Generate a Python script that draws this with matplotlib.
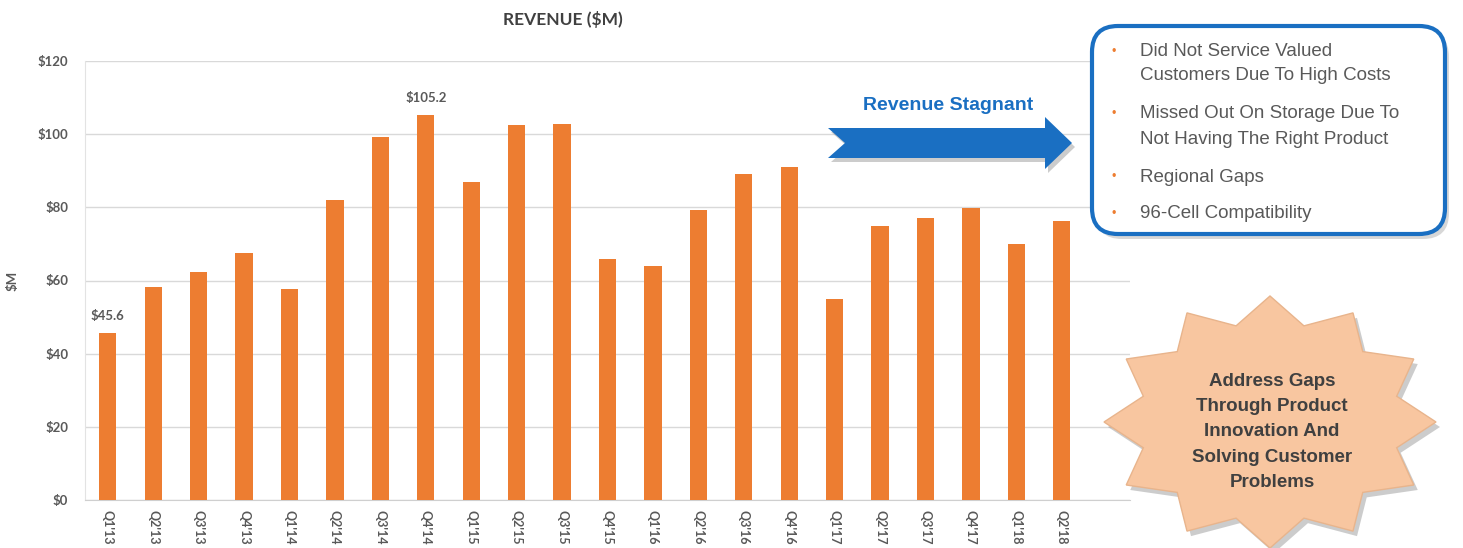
import numpy as np
import matplotlib
matplotlib.use("Agg")
import matplotlib.pyplot as plt
from matplotlib.patches import Polygon, FancyBboxPatch

# data
quarters = ["Q1'13", "Q2'13", "Q3'13", "Q4'13", "Q1'14", "Q2'14", "Q3'14", "Q4'14",
            "Q1'15", "Q2'15", "Q3'15", "Q4'15", "Q1'16", "Q2'16", "Q3'16", "Q4'16",
            "Q1'17", "Q2'17", "Q3'17", "Q4'17", "Q1'18", "Q2'18"]
revenue = [45.6, 58.1, 62.2, 67.4, 57.6, 82.1, 99.2, 105.2,
           86.8, 102.5, 102.9, 66.0, 64.1, 79.4, 89.0, 90.9,
           55.0, 74.8, 77.0, 79.8, 70.1, 76.2]
labeled = {0: "$45.6", 7: "$105.2"}
yticks = [0, 20, 40, 60, 80, 100, 120]
bullets = [["Did Not Service Valued", "Customers Due To High Costs"],
           ["Missed Out On Storage Due To", "Not Having The Right Product"],
           ["Regional Gaps"],
           ["96-Cell Compatibility"]]
star_lines = "Address Gaps\nThrough Product\nInnovation And\nSolving Customer\nProblems"

W, H = 1463, 548
orange = "#ED7D31"
blue = "#1A6FC2"
grey_txt = "#595959"

fig = plt.figure(figsize=(W / 100, H / 100), dpi=100)
ax = fig.add_axes([85 / W, 1 - 500 / H, (1130 - 85) / W, (500 - 61) / H])

x = np.arange(len(quarters))
ax.bar(x, revenue, width=0.38, color=orange, zorder=3)
for i, lab in labeled.items():
    ax.text(x[i], revenue[i] + 3, lab, ha="center", va="bottom", fontsize=9.5,
            fontweight="bold", color=grey_txt, family="Lato")

ax.set_xlim(-0.5, 22.5)
ax.set_ylim(0, 120)
ax.set_yticks(yticks)
ax.set_yticklabels(["$%d" % v for v in yticks], fontsize=9.5, fontweight="bold",
                   color=grey_txt, family="Lato")
ax.set_xticks(x)
ax.set_xticklabels(quarters, rotation=-90, fontsize=9, fontweight="bold",
                   color=grey_txt, family="Lato")
ax.tick_params(length=0, pad=12)
ax.tick_params(axis="x", pad=7)
ax.grid(axis="y", color="#d9d9d9", linewidth=1, zorder=0)
for s in ["top", "right"]:
    ax.spines[s].set_visible(False)
ax.spines["left"].set_color("#e3e3e3")
ax.spines["bottom"].set_color("#cfcfcf")
ax.set_ylabel("$M", fontsize=9.5, fontweight="bold", color=grey_txt,
              family="Lato", labelpad=14)

fig.text(563 / W, 1 - 20 / H, "REVENUE ($M)", ha="center", va="center",
         fontsize=12.5, fontweight="bold", color="#404040", family="Lato")

# overlay in pixel coordinates for the callouts
ov = fig.add_axes([0, 0, 1, 1])
ov.set_xlim(0, W)
ov.set_ylim(H, 0)
ov.axis("off")

# arrow
arrow = [(828, 128), (1045, 128), (1045, 117), (1072, 143), (1045, 169),
         (1045, 158), (828, 158), (845, 143)]
ov.add_patch(Polygon([(a + 3, b + 4) for a, b in arrow], closed=True,
                     color="#9a9a9a", alpha=0.5, lw=0))
ov.add_patch(Polygon(arrow, closed=True, color=blue, lw=0))
ov.text(948, 106, "Revenue Stagnant", ha="center", va="center", fontsize=14,
        fontweight="bold", color=blue, family="Liberation Sans")

# bullet box
ov.add_patch(FancyBboxPatch((1096, 31), 353, 208,
                            boxstyle="round,pad=0,rounding_size=26",
                            fc="#b0b0b0", ec="none", alpha=0.5))
ov.add_patch(FancyBboxPatch((1092, 26), 353, 208,
                            boxstyle="round,pad=0,rounding_size=26",
                            fc="white", ec=blue, lw=3))
ys = [[52, 76], [114, 139], [177], [214]]
for lines, yy in zip(bullets, ys):
    ov.text(1114, yy[0], "\u2022", ha="center", va="center", fontsize=9,
            color=orange, family="Liberation Sans")
    for t, y in zip(lines, yy):
        ov.text(1140, y, t, ha="left", va="center", fontsize=13.5,
                color=grey_txt, family="Liberation Sans")

# starburst (12 points)
n = 12
cx, cy, rx, ry = 1270, 422, 166, 126
ang = np.pi / 2 + np.arange(2 * n) * np.pi / n
rad = np.where(np.arange(2 * n) % 2 == 0, 1.0, 0.79)
pts = np.column_stack([cx + rx * rad * np.cos(ang), cy - ry * rad * np.sin(ang)])
ov.add_patch(Polygon(pts + [4, 5], closed=True, color="#9a9a9a", alpha=0.5, lw=0))
ov.add_patch(Polygon(pts, closed=True, fc="#F8C6A0", ec="#e8b48c", lw=1))
ov.text(cx + 2, 432, star_lines, ha="center", va="center", fontsize=13.5,
        fontweight="bold", color="#404040", family="Liberation Sans",
        linespacing=1.62)

fig.savefig("out.png", dpi=100, facecolor="white")
